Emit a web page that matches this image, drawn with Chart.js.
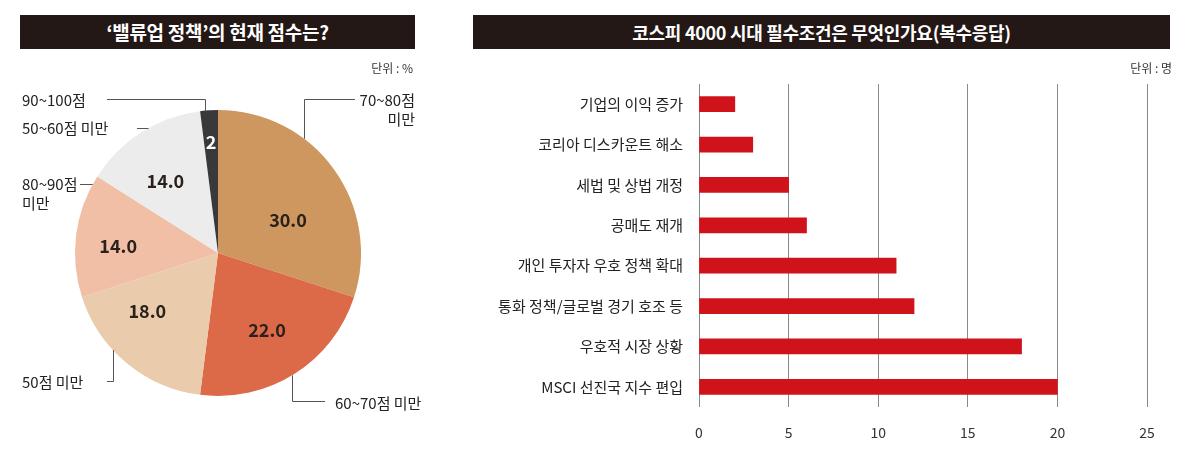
<!DOCTYPE html>
<html>
<head>
<meta charset="utf-8">
<script src="https://cdn.jsdelivr.net/npm/chart.js@4.4.0/dist/chart.umd.min.js"></script>
<style>
  body { margin: 0; background: #fff; font-family: "Noto Sans CJK KR", "Noto Sans", sans-serif; }
  #wrap { position: relative; width: 1200px; height: 457px; overflow: hidden; }
  .bar { position: absolute; top: 15px; height: 34px; background: #231815; color: #fff;
         font-weight: bold; font-size: 18px; line-height: 34px; text-align: center; letter-spacing: -0.3px; }
  .unit { position: absolute; top: 59px; font-size: 12px; color: #333; text-align: right; }
  canvas { position: absolute; top: 0; }
</style>
</head>
<body>
<div id="wrap">
  <canvas id="pie" width="440" height="457" style="left:0"></canvas>
  <canvas id="bars" width="730" height="457" style="left:470px"></canvas>
  <div class="bar" style="left:20px; width:395px; font-size:19px">‘밸류업 정책’의 현재 점수는?</div>
  <div class="bar" style="left:473px; width:697px">코스피 4000 시대 필수조건은 무엇인가요(복수응답)</div>
  <div class="unit" style="left:300px; width:113px">단위 : %</div>
  <div class="unit" style="left:1050px; width:122px">단위 : 명</div>
</div>
<script>
// pie data
const scoreLabels = ['70~80점 미만', '60~70점 미만', '50점 미만', '80~90점 미만', '50~60점 미만', '90~100점'];
const scoreValues = [30, 22, 18, 14, 14, 2];
const scoreText = ['30.0', '22.0', '18.0', '14.0', '14.0', '2'];
const scoreColors = ['#cd975f', '#dc6a48', '#eacbab', '#f0bfa6', '#ececec', '#3a3838'];

// bar data
const condLabels = ['기업의 이익 증가', '코리아 디스카운트 해소', '세법 및 상법 개정', '공매도 재개',
  '개인 투자자 우호 정책 확대', '통화 정책/글로벌 경기 호조 등', '우호적 시장 상황', 'MSCI 선진국 지수 편입'];
const condValues = [2, 3, 5, 6, 11, 12, 18, 20];
const condTicks = [0, 5, 10, 15, 20, 25];

const FONT = '"Noto Sans CJK KR", "Noto Sans", sans-serif';

// where the callouts go (canvas px). mode h = straight line to the pie, hv = line then drop to the pie
const callouts = [
  { lines: ['70~80점', '미만'], x: 415, y: 100, align: 'right', mode: 'hv', from: 355, elbow: 304, ly: 99 },
  { lines: ['60~70점 미만'], x: 335, y: 403, align: 'left', mode: 'hv', from: 325, elbow: 292, ly: 401 },
  { lines: ['50점 미만'], x: 22, y: 382, align: 'left', mode: 'hv', from: 107, elbow: 113, ly: 381 },
  { lines: ['80~90점', '미만'], x: 22, y: 184, align: 'left', mode: 'h', from: 80, ly: 184 },
  { lines: ['50~60점 미만'], x: 22, y: 128, align: 'left', mode: 'h', from: 137, ly: 128 },
  { lines: ['90~100점'], x: 22, y: 100, align: 'left', mode: 'hv', from: 107, elbow: 205, ly: 99 }
];
// nudges for the numbers inside the slices
const valAngle = [11, 0, 11, -3, -4, 0];
const valRadius = [0.54, 0.64, 0.64, 0.70, 0.62, 0.78];

const pieLabels = {
  id: 'pieLabels',
  afterDraw(chart) {
    const ctx = chart.ctx;
    const arcs = chart.getDatasetMeta(0).data;
    ctx.save();
    // numbers
    ctx.font = 'bold 18px ' + FONT;
    ctx.textAlign = 'center';
    ctx.textBaseline = 'middle';
    arcs.forEach((arc, i) => {
      const p = arc.getProps(['x', 'y', 'startAngle', 'endAngle', 'outerRadius'], true);
      const a = (p.startAngle + p.endAngle) / 2 + valAngle[i] * Math.PI / 180;
      const r = p.outerRadius * valRadius[i];
      ctx.fillStyle = i === 5 ? '#fff' : '#2a201c';
      ctx.fillText(scoreText[i], p.x + Math.cos(a) * r, p.y + Math.sin(a) * r);
    });
    // callouts
    const c = arcs[0].getProps(['x', 'y', 'outerRadius'], true);
    ctx.strokeStyle = '#555';
    ctx.lineWidth = 1;
    ctx.font = '15px ' + FONT;
    ctx.fillStyle = '#222';
    callouts.forEach(o => {
      ctx.beginPath();
      ctx.moveTo(o.from, o.ly + 0.5);
      if (o.mode === 'h') {
        const dy = o.ly - c.y;
        const ex = c.x - Math.sqrt(c.outerRadius * c.outerRadius - dy * dy);
        ctx.lineTo(ex, o.ly + 0.5);
      } else {
        const dx = o.elbow - c.x;
        const h = Math.sqrt(c.outerRadius * c.outerRadius - dx * dx);
        const ey = o.ly < c.y ? c.y - h : c.y + h;
        ctx.lineTo(o.elbow + 0.5, o.ly + 0.5);
        ctx.lineTo(o.elbow + 0.5, ey);
      }
      ctx.stroke();
      ctx.textAlign = o.align;
      o.lines.forEach((t, k) => ctx.fillText(t, o.x, o.y + k * 19));
    });
    ctx.restore();
  }
};

new Chart(document.getElementById('pie'), {
  type: 'pie',
  data: {
    labels: scoreLabels,
    datasets: [{ data: scoreValues, backgroundColor: scoreColors, borderWidth: 0 }]
  },
  options: {
    responsive: false,
    animation: false,
    layout: { padding: { left: 75, right: 79, top: 110, bottom: 61 } },
    plugins: { legend: { display: false }, tooltip: { enabled: false } }
  },
  plugins: [pieLabels]
});

new Chart(document.getElementById('bars'), {
  type: 'bar',
  data: {
    labels: condLabels,
    datasets: [{ data: condValues, backgroundColor: '#d0121b', barThickness: 15 }]
  },
  options: {
    indexAxis: 'y',
    responsive: false,
    animation: false,
    layout: { padding: { left: 0, right: 53, top: 84, bottom: 0 } },
    scales: {
      x: {
        min: 0, max: 25,
        afterBuildTicks: s => { s.ticks = condTicks.map(v => ({ value: v })); },
        afterFit: s => { s.height = 50; },
        grid: { color: '#8a8a8a', lineWidth: 1, drawTicks: false },
        border: { display: false },
        ticks: { color: '#333', padding: 17, font: { family: FONT, size: 14 } }
      },
      y: {
        afterFit: s => { s.width = 229; },
        grid: { display: false },
        border: { display: false },
        ticks: { color: '#222', padding: 8, font: { family: FONT, size: 15 } }
      }
    },
    plugins: { legend: { display: false }, tooltip: { enabled: false } }
  }
});
</script>
</body>
</html>
